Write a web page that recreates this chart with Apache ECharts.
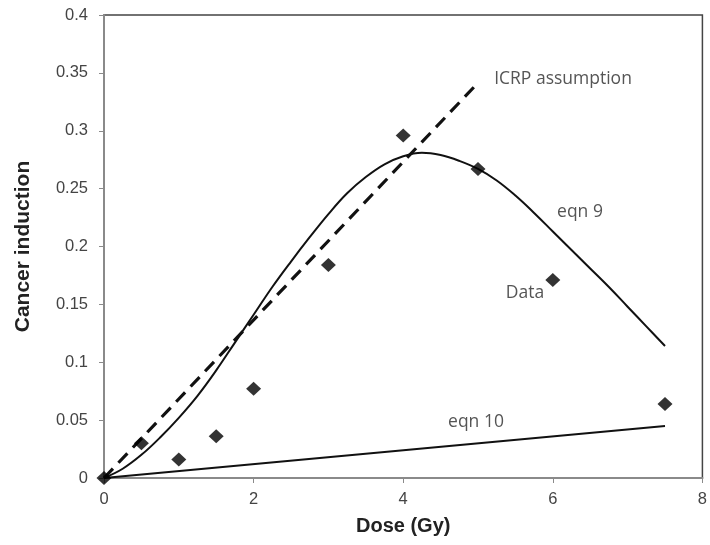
<!DOCTYPE html>
<html>
<head>
<meta charset="utf-8">
<script src="https://cdn.jsdelivr.net/npm/echarts@6/dist/echarts.min.js"></script>
<style>html,body{margin:0;padding:0;background:#fff}#c{width:710px;height:545px}</style>
</head>
<body>
<div id="c"></div>
<script>
// Observed data points (Dose Gy, Cancer induction)
const dataDose = [0, 0.5, 1, 1.5, 2, 3, 4, 5, 6, 7.5];
const dataInduction = [0, 0.030, 0.016, 0.036, 0.077, 0.184, 0.296, 0.267, 0.171, 0.064];

// eqn 9 curve
const eqn9Dose = [0, 0.25, 0.5, 0.75, 1, 1.25, 1.5, 1.75, 2, 2.25, 2.5, 2.75, 3, 3.25, 3.5, 3.75, 4, 4.25, 4.5, 4.75, 5, 5.25, 5.5, 5.75, 6, 6.25, 6.5, 6.75, 7, 7.25, 7.5];
const eqn9Values = [0, 0.008, 0.020, 0.035, 0.052, 0.071, 0.093, 0.117, 0.141, 0.165, 0.187, 0.208, 0.228, 0.246, 0.260, 0.271, 0.278, 0.281, 0.279, 0.274, 0.267, 0.257, 0.244, 0.229, 0.213, 0.197, 0.181, 0.165, 0.148, 0.131, 0.114];

// eqn 10 straight line
const eqn10Dose = [0, 7.5];
const eqn10Values = [0, 0.045];

// ICRP assumption (dashed)
const icrpDose = [0, 4.95];
const icrpValues = [0, 0.338];

const xTicks = [0, 2, 4, 6, 8];
const yTicks = [0, 0.05, 0.1, 0.15, 0.2, 0.25, 0.3, 0.35, 0.4];

const annotations = [
  {text: 'ICRP assumption', x: 563, y: 79},
  {text: 'eqn 9', x: 580, y: 212},
  {text: 'Data', x: 525, y: 293},
  {text: 'eqn 10', x: 476, y: 422}
];

const zip = (a, b) => a.map((v, i) => [v, b[i]]);

const chart = echarts.init(document.getElementById('c'), null, {renderer: 'canvas'});
chart.setOption({
  animation: false,
  backgroundColor: '#fff',
  grid: {left: 104, right: 2, top: 15, bottom: 67, show: true, borderColor: '#444', borderWidth: 1.5},
  xAxis: {
    type: 'value', min: 0, max: 8, interval: 2,
    name: 'Dose (Gy)', nameLocation: 'middle', nameGap: 38,
    nameTextStyle: {fontFamily: 'Liberation Sans', fontWeight: 'bold', fontSize: 20, color: '#222'},
    axisLine: {show: true, onZero: false, lineStyle: {color: '#8a8a8a', width: 2}},
    axisTick: {show: true, length: 5, lineStyle: {color: '#8a8a8a', width: 1}},
    axisLabel: {margin: 13, fontFamily: 'Liberation Sans', fontSize: 16.5, color: '#444',
      formatter: v => xTicks.includes(v) ? String(v) : ''},
    splitLine: {show: false}
  },
  yAxis: {
    type: 'value', min: 0, max: 0.4, interval: 0.05,
    name: 'Cancer induction', nameLocation: 'middle', nameGap: 70,
    nameTextStyle: {fontFamily: 'Liberation Sans', fontWeight: 'bold', fontSize: 21, color: '#222'},
    axisLine: {show: true, onZero: false, lineStyle: {color: '#8a8a8a', width: 2}},
    axisTick: {show: true, length: 5, lineStyle: {color: '#8a8a8a', width: 1}},
    axisLabel: {margin: 16, fontFamily: 'Liberation Sans', fontSize: 16.5, color: '#444',
      formatter: v => { const t = yTicks.find(y => Math.abs(y - v) < 1e-9); return t === undefined ? '' : String(+t.toFixed(2)); }},
    splitLine: {show: false}
  },
  series: [
    {type: 'line', data: zip(icrpDose, icrpValues), showSymbol: false, symbol: 'none', clip: false,
      lineStyle: {color: '#111', width: 3.2, type: [13, 8], cap: 'butt'}, z: 3},
    {type: 'line', data: zip(eqn9Dose, eqn9Values), showSymbol: false, symbol: 'none', smooth: 0.4, clip: false,
      lineStyle: {color: '#111', width: 2}, z: 3},
    {type: 'line', data: zip(eqn10Dose, eqn10Values), showSymbol: false, symbol: 'none', clip: false,
      lineStyle: {color: '#111', width: 2}, z: 3},
    {type: 'scatter', data: zip(dataDose, dataInduction), symbol: 'diamond', symbolSize: [15, 14], clip: false,
      itemStyle: {color: '#000'}, z: 5}
  ],
  graphic: annotations.map(a => ({
    type: 'text', x: a.x, y: a.y, z: 10,
    style: {text: a.text, fontFamily: 'Open Sans', fontSize: 17.5, fill: '#555', align: 'center', verticalAlign: 'middle'}
  }))
});
</script>
</body>
</html>
